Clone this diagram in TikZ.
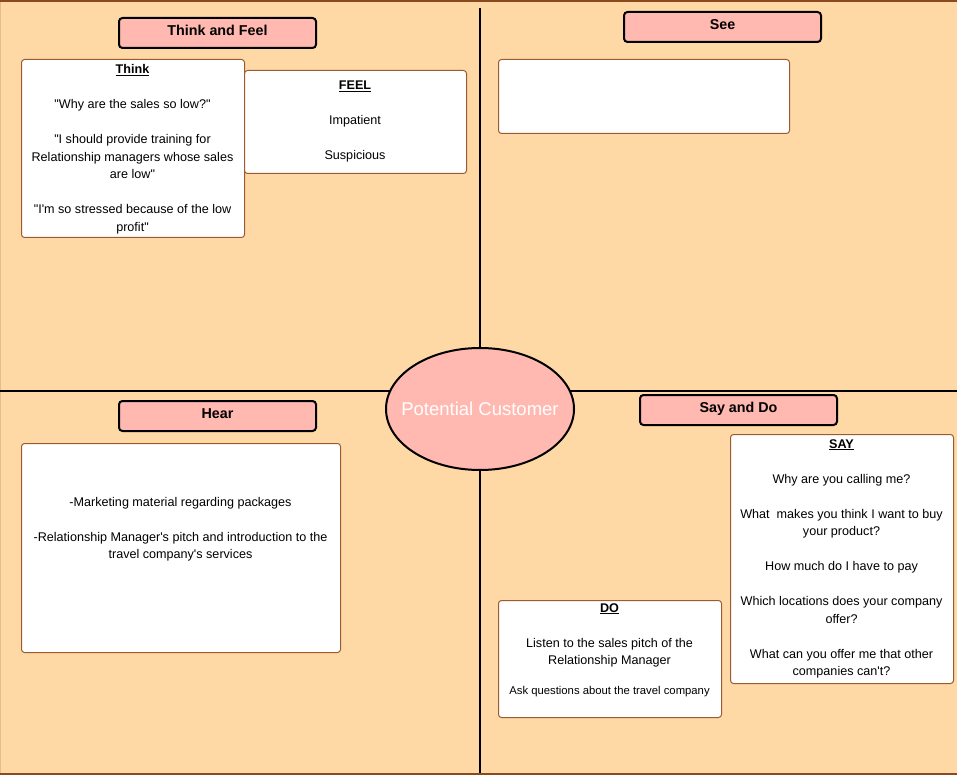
\documentclass[tikz,border=0pt]{standalone}
\usepackage{fontspec}
\setmainfont{Liberation Sans}[Ligatures=TeXOff]
\usetikzlibrary{shapes.geometric}
\definecolor{peach}{HTML}{FED9A6}
\definecolor{pinkfill}{HTML}{FFB9B0}
\definecolor{boxbrown}{HTML}{9C5A30}
\definecolor{framebrown}{HTML}{8B4A1E}
\definecolor{edgetan}{HTML}{E6BC8A}
\tikzset{
  card/.style={draw=boxbrown, fill=white, rounded corners=3pt, line width=1pt, inner sep=0pt, anchor=north west},
  header/.style={draw=black, fill=pinkfill, line width=2pt, rounded corners=3.5pt, minimum width=197pt, minimum height=30pt, inner sep=0pt, anchor=north west, font=\fontsize{14.3}{16}\selectfont\bfseries, text height=10pt, text depth=5.8pt},
  txt/.style={align=center, anchor=base, inner sep=0pt, font=\fontsize{12.6}{17.5}\selectfont},
  divider/.style={draw=black, line width=1.3pt},
}
\newcommand{\hd}[1]{\underline{\textbf{#1}}}
\begin{document}
\begin{tikzpicture}[x=1pt,y=-1pt]
\useasboundingbox (0,0) rectangle (957,775);
\fill[peach] (0,0) rectangle (957,775);
\fill[framebrown] (0,0) rectangle (957,2.2);
\fill[framebrown] (0,772.8) rectangle (957,775);
\fill[edgetan] (0,2.2) rectangle (1.2,772.8);
% quadrant dividers
\coordinate (vtop) at (480,8);
\coordinate (vbot) at (480,773);
\coordinate (hl) at (0,391);
\coordinate (hr) at (957,391);
\draw[divider] (vtop) -- (vbot);
\draw[divider] (hl) -- (hr);
% headers
\node[header] (hthink) at (118,17) {Think and Feel};
\node[header] (hsee) at (623,11) {See};
\node[header] (hhear) at (118,400) {Hear};
\node[header] (hsay) at (639,394) {Say and Do};
% cards
\node[card, minimum width=223pt, minimum height=178pt] (think) at (21,59) {};
\node[card, minimum width=222pt, minimum height=103pt] (feel) at (244,70) {};
\node[card, minimum width=291pt, minimum height=74pt] (see) at (498,59) {};
\node[card, minimum width=319pt, minimum height=209pt] (hear) at (21,443) {};
\node[card, minimum width=223pt, minimum height=249pt] (say) at (730,434) {};
\node[card, minimum width=223pt, minimum height=117pt] (do) at (498,600) {};
% texts (anchored at the baseline of their last line)
\node[txt] (thinktxt) at (132.5,231.5) {\hd{Think}\\[17.5pt]
"Why are the sales so low?"\\[17.5pt]
"I should provide training for\\ Relationship managers whose sales\\ are low"\\[17.5pt]
"I'm so stressed because of the low\\ profit"};
\node[txt] (feeltxt) at (355,159.5) {\hd{FEEL}\\[17.5pt] Impatient\\[17.5pt] Suspicious};
\node[txt] (heartxt) at (180.5,558.5) {-Marketing material regarding packages\\[17.5pt]
-Relationship Manager's pitch and introduction to the\\ travel company's services};
\node[txt] (saytxt) at (841.5,675.5) {\hd{SAY}\\[17.5pt]
Why are you calling me?\\[17.5pt]
What\ \ makes you think I want to buy\\ your product?\\[17.5pt]
How much do I have to pay\\[17.5pt]
Which locations does your company\\ offer?\\[17.5pt]
What can you offer me that other\\ companies can't?};
\node[txt] (dotxt) at (609.5,694.5) {\hd{DO}\\[17.5pt]
Listen to the sales pitch of the\\ Relationship Manager\\[12.5pt]
{\fontsize{11.3}{13}\selectfont Ask questions about the travel company}};
% center
\node[ellipse, draw=black, line width=2pt, fill=pinkfill, minimum width=188pt, minimum height=122pt, inner xsep=-30pt, inner ysep=0pt, text=white, font=\fontsize{18.5}{20}\selectfont] (cust) at (480,409) {Potential Customer};
\end{tikzpicture}
\end{document}
